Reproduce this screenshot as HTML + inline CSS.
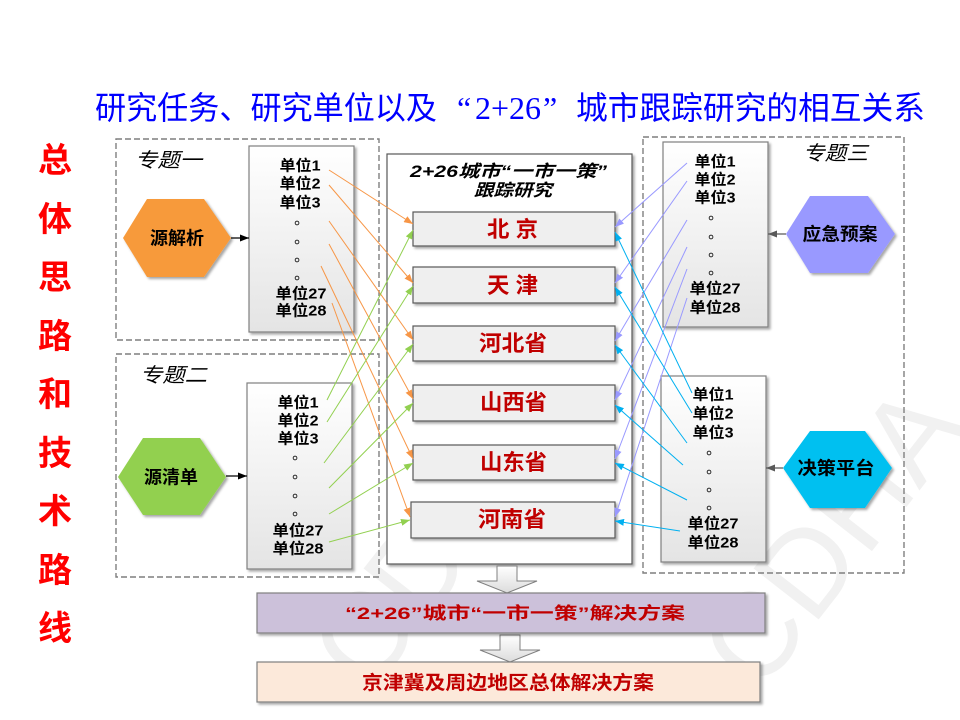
<!DOCTYPE html>
<html><head><meta charset="utf-8">
<style>
html,body{margin:0;padding:0;background:#fff;}
svg{display:block;}
text{font-family:"Liberation Sans","Noto Sans CJK SC",sans-serif;}
.u{font-size:15px;font-weight:700;fill:#000;text-anchor:middle;}
.d{font-family:"Noto Sans CJK TC",sans-serif;font-size:15px;fill:#000;text-anchor:middle;}
.c{font-size:22px;font-weight:700;fill:#c00000;}
.h{font-size:18px;font-weight:700;fill:#000;text-anchor:middle;}
.z{font-size:20px;font-style:italic;fill:#000;}
.v{font-size:34px;font-weight:700;fill:#ff0000;text-anchor:middle;}
</style></head>
<body>
<svg width="960" height="720" viewBox="0 0 960 720" xmlns="http://www.w3.org/2000/svg">
<defs>
  <filter id="sh" x="-10%" y="-10%" width="130%" height="130%">
    <feDropShadow dx="2" dy="2" stdDeviation="1.2" flood-color="#000" flood-opacity="0.35"/>
  </filter>
  <linearGradient id="ug" x1="0" y1="0" x2="0" y2="1">
    <stop offset="0" stop-color="#ffffff"/>
    <stop offset="1" stop-color="#e4e4e4"/>
  </linearGradient>
  <linearGradient id="ag" x1="0" y1="0" x2="0" y2="1">
    <stop offset="0" stop-color="#ffffff"/>
    <stop offset="1" stop-color="#dcdcdc"/>
  </linearGradient>
  <marker id="mO" markerWidth="9" markerHeight="7" refX="9" refY="3.5" orient="auto" markerUnits="userSpaceOnUse"><path d="M0,0 L9,3.5 L0,7 z" fill="#f79646"/></marker>
  <marker id="mG" markerWidth="9" markerHeight="7" refX="9" refY="3.5" orient="auto" markerUnits="userSpaceOnUse"><path d="M0,0 L9,3.5 L0,7 z" fill="#92d050"/></marker>
  <marker id="mL" markerWidth="9" markerHeight="7" refX="9" refY="3.5" orient="auto" markerUnits="userSpaceOnUse"><path d="M0,0 L9,3.5 L0,7 z" fill="#9999ff"/></marker>
  <marker id="mC" markerWidth="9" markerHeight="7" refX="9" refY="3.5" orient="auto" markerUnits="userSpaceOnUse"><path d="M0,0 L9,3.5 L0,7 z" fill="#00b0f0"/></marker>
  <marker id="mK" markerWidth="9" markerHeight="7" refX="9" refY="3.5" orient="auto" markerUnits="userSpaceOnUse"><path d="M0,0 L9,3.5 L0,7 z" fill="#000"/></marker>
  <marker id="mY" markerWidth="9" markerHeight="7" refX="9" refY="3.5" orient="auto" markerUnits="userSpaceOnUse"><path d="M0,0 L9,3.5 L0,7 z" fill="#595959"/></marker>
</defs>

<!-- watermark -->
<g fill="#f1f1f1" font-size="120" font-family="Liberation Sans, sans-serif">
  <text transform="translate(440,535) rotate(-52)" x="0" y="43" text-anchor="middle">CDHA</text>
  <text transform="translate(830,535) rotate(-52)" x="0" y="43" text-anchor="middle">CDHA</text>
</g>

<!-- title -->
<g font-size="32" fill="#0000ff">
  <text x="95" y="119" textLength="342" lengthAdjust="spacingAndGlyphs">研究任务、研究单位以及</text>
  <text x="457" y="119" style="font-family:'Liberation Serif',serif">“</text>
  <text x="475" y="119" textLength="66" lengthAdjust="spacingAndGlyphs" style="font-family:'Liberation Serif',serif">2+26</text>
  <text x="543" y="119" style="font-family:'Liberation Serif',serif">”</text>
  <text x="576" y="119" textLength="349" lengthAdjust="spacingAndGlyphs">城市跟踪研究的相互关系</text>
</g>

<!-- left vertical red -->
<g>
  <text class="v" x="55" y="172">总</text>
  <text class="v" x="55" y="231">体</text>
  <text class="v" x="55" y="289">思</text>
  <text class="v" x="55" y="348">路</text>
  <text class="v" x="55" y="406">和</text>
  <text class="v" x="55" y="465">技</text>
  <text class="v" x="55" y="523">术</text>
  <text class="v" x="55" y="582">路</text>
  <text class="v" x="55" y="640">线</text>
</g>

<!-- dashed boxes -->
<g fill="none" stroke="#7f7f7f" stroke-width="1.4" stroke-dasharray="6,3">
  <rect x="116" y="139" width="263" height="201"/>
  <rect x="116" y="354" width="263" height="223"/>
  <rect x="643" y="137" width="261" height="436"/>
</g>
<text class="z" x="135" y="167" textLength="67" lengthAdjust="spacingAndGlyphs">专题一</text>
<text class="z" x="140" y="382" textLength="67" lengthAdjust="spacingAndGlyphs">专题二</text>
<text class="z" x="803" y="160" textLength="65" lengthAdjust="spacingAndGlyphs">专题三</text>

<!-- unit boxes -->
<g fill="url(#ug)" stroke="#7f7f7f" stroke-width="1.2" filter="url(#sh)">
  <rect x="249" y="146" width="105" height="186"/>
  <rect x="247" y="383" width="105" height="186"/>
  <rect x="663" y="142" width="105" height="185"/>
  <rect x="661" y="376" width="105" height="186"/>
</g>

<!-- unit box texts 1 -->
<g>
  <text class="u" x="300" y="170.5" textLength="41" lengthAdjust="spacingAndGlyphs">单位1</text>
  <text class="u" x="300" y="188.5" textLength="41" lengthAdjust="spacingAndGlyphs">单位2</text>
  <text class="u" x="300" y="207.5" textLength="41" lengthAdjust="spacingAndGlyphs">单位3</text>
  <text class="d" x="297" y="228.7">。</text>
  <text class="d" x="297" y="247.7">。</text>
  <text class="d" x="297" y="265.7">。</text>
  <text class="d" x="297" y="283.7">。</text>
  <text class="u" x="301" y="298.5" textLength="51" lengthAdjust="spacingAndGlyphs">单位27</text>
  <text class="u" x="301" y="315.5" textLength="51" lengthAdjust="spacingAndGlyphs">单位28</text>
</g>
<!-- unit box texts 2 -->
<g>
  <text class="u" x="298" y="407.5" textLength="41" lengthAdjust="spacingAndGlyphs">单位1</text>
  <text class="u" x="298" y="425.5" textLength="41" lengthAdjust="spacingAndGlyphs">单位2</text>
  <text class="u" x="298" y="443.5" textLength="41" lengthAdjust="spacingAndGlyphs">单位3</text>
  <text class="d" x="295" y="463.7">。</text>
  <text class="d" x="295" y="482.7">。</text>
  <text class="d" x="295" y="501.7">。</text>
  <text class="d" x="295" y="519.7">。</text>
  <text class="u" x="298" y="535.5" textLength="51" lengthAdjust="spacingAndGlyphs">单位27</text>
  <text class="u" x="298" y="553.5" textLength="51" lengthAdjust="spacingAndGlyphs">单位28</text>
</g>
<!-- unit box texts 3 -->
<g>
  <text class="u" x="715" y="166.5" textLength="41" lengthAdjust="spacingAndGlyphs">单位1</text>
  <text class="u" x="715" y="184.5" textLength="41" lengthAdjust="spacingAndGlyphs">单位2</text>
  <text class="u" x="715" y="202.5" textLength="41" lengthAdjust="spacingAndGlyphs">单位3</text>
  <text class="d" x="711" y="223.7">。</text>
  <text class="d" x="711" y="242.7">。</text>
  <text class="d" x="711" y="260.7">。</text>
  <text class="d" x="711" y="278.7">。</text>
  <text class="u" x="715" y="293.5" textLength="51" lengthAdjust="spacingAndGlyphs">单位27</text>
  <text class="u" x="715" y="312.5" textLength="51" lengthAdjust="spacingAndGlyphs">单位28</text>
</g>
<!-- unit box texts 4 -->
<g>
  <text class="u" x="713" y="399.5" textLength="41" lengthAdjust="spacingAndGlyphs">单位1</text>
  <text class="u" x="713" y="418.5" textLength="41" lengthAdjust="spacingAndGlyphs">单位2</text>
  <text class="u" x="713" y="437.5" textLength="41" lengthAdjust="spacingAndGlyphs">单位3</text>
  <text class="d" x="709" y="458.7">。</text>
  <text class="d" x="709" y="477.7">。</text>
  <text class="d" x="709" y="495.7">。</text>
  <text class="d" x="709" y="513.7">。</text>
  <text class="u" x="713" y="528.5" textLength="51" lengthAdjust="spacingAndGlyphs">单位27</text>
  <text class="u" x="713" y="547.5" textLength="51" lengthAdjust="spacingAndGlyphs">单位28</text>
</g>

<!-- hexagons -->
<g filter="url(#sh)">
  <polygon points="123,238 147,199 204,199 231,238 204,277 147,277" fill="#f79a3a"/>
  <polygon points="118,477 143,438 200,438 226,477 200,515 143,515" fill="#92d050"/>
  <polygon points="786,234 810,196 868,196 895,234 868,273 810,273" fill="#9999ff"/>
  <polygon points="783,468 810,431 865,431 892,468 865,508 810,508" fill="#00c0f0"/>
</g>
<text class="h" x="177" y="244.5">源解析</text>
<text class="h" x="171" y="483.5">源清单</text>
<text class="h" x="840" y="240.5" textLength="75" lengthAdjust="spacingAndGlyphs">应急预案</text>
<text class="h" x="836" y="474.5" textLength="77" lengthAdjust="spacingAndGlyphs">决策平台</text>

<!-- hex arrows -->
<line x1="231" y1="238" x2="249" y2="238" stroke="#000" stroke-width="1.3" marker-end="url(#mK)"/>
<line x1="226" y1="476" x2="247" y2="476" stroke="#000" stroke-width="1.3" marker-end="url(#mK)"/>
<line x1="786" y1="234" x2="768" y2="234" stroke="#595959" stroke-width="1.3" marker-end="url(#mY)"/>
<line x1="783" y1="468" x2="766" y2="468" stroke="#595959" stroke-width="1.3" marker-end="url(#mY)"/>

<!-- center box -->
<rect x="387" y="154" width="245" height="410" fill="#fff" stroke="#595959" stroke-width="1.2" filter="url(#sh)"/>
<text x="410" y="177" font-size="17" font-weight="700" font-style="italic" textLength="197" lengthAdjust="spacingAndGlyphs">2+26城市“一市一策”</text>
<text x="474" y="196" font-size="17" font-weight="700" font-style="italic" textLength="78" lengthAdjust="spacingAndGlyphs">跟踪研究</text>

<!-- city boxes -->
<g fill="#efefef" stroke="#595959" stroke-width="1.2" filter="url(#sh)">
  <rect x="413" y="212" width="202" height="34"/>
  <rect x="413" y="267" width="202" height="36"/>
  <rect x="413" y="326" width="202" height="35"/>
  <rect x="413" y="385" width="202" height="36"/>
  <rect x="413" y="445" width="202" height="35"/>
  <rect x="411" y="502" width="204" height="36"/>
</g>
<text class="c" x="487" y="237" textLength="51" lengthAdjust="spacingAndGlyphs">北 京</text>
<text class="c" x="487" y="293" textLength="51" lengthAdjust="spacingAndGlyphs">天 津</text>
<text class="c" x="479" y="351" textLength="68" lengthAdjust="spacingAndGlyphs">河北省</text>
<text class="c" x="480" y="410" textLength="67" lengthAdjust="spacingAndGlyphs">山西省</text>
<text class="c" x="480" y="470" textLength="67" lengthAdjust="spacingAndGlyphs">山东省</text>
<text class="c" x="478" y="527" textLength="68" lengthAdjust="spacingAndGlyphs">河南省</text>

<!-- connectors orange -->
<g stroke="#f79646" stroke-width="1" fill="none" marker-end="url(#mO)">
  <line x1="329" y1="170" x2="413" y2="224"/>
  <line x1="329" y1="185" x2="413" y2="283"/>
  <line x1="329" y1="221" x2="413" y2="340"/>
  <line x1="329" y1="244" x2="413" y2="399"/>
  <line x1="321" y1="266" x2="413" y2="459"/>
  <line x1="332" y1="303" x2="410" y2="517"/>
</g>
<!-- connectors green -->
<g stroke="#92d050" stroke-width="1" fill="none" marker-end="url(#mG)">
  <line x1="327" y1="400" x2="413" y2="230"/>
  <line x1="327" y1="422" x2="413" y2="286"/>
  <line x1="324" y1="463" x2="413" y2="344"/>
  <line x1="329" y1="488" x2="413" y2="403"/>
  <line x1="329" y1="514" x2="413" y2="463"/>
  <line x1="329" y1="542" x2="410" y2="520"/>
</g>
<!-- connectors lavender -->
<g stroke="#9999ff" stroke-width="1" fill="none" marker-end="url(#mL)">
  <line x1="687" y1="163" x2="615" y2="227"/>
  <line x1="687" y1="181" x2="615" y2="283"/>
  <line x1="687" y1="220" x2="615" y2="341"/>
  <line x1="687" y1="247" x2="615" y2="400"/>
  <line x1="687" y1="269" x2="615" y2="459"/>
  <line x1="687" y1="298" x2="615" y2="517"/>
</g>
<!-- connectors cyan -->
<g stroke="#00b0f0" stroke-width="1" fill="none" marker-end="url(#mC)">
  <line x1="692" y1="393" x2="615" y2="232"/>
  <line x1="692" y1="413" x2="615" y2="287"/>
  <line x1="687" y1="443" x2="615" y2="345"/>
  <line x1="683" y1="465" x2="615" y2="405"/>
  <line x1="687" y1="500" x2="615" y2="463"/>
  <line x1="680" y1="531" x2="615" y2="521"/>
</g>

<!-- block arrows -->
<polygon points="497,566 517,566 517,581 537,581 507,593 477,581 497,581" fill="url(#ag)" stroke="#808080" stroke-width="1"/>
<polygon points="500,635 520,635 520,650 540,650 510,662 480,650 500,650" fill="url(#ag)" stroke="#808080" stroke-width="1"/>

<!-- bottom bars -->
<rect x="257" y="593" width="508" height="40" fill="#ccc1da" stroke="#7f7f7f" stroke-width="1.2" filter="url(#sh)"/>
<text x="345" y="619" font-size="17" font-weight="700" fill="#c00000" textLength="340" lengthAdjust="spacingAndGlyphs">“2+26”城市“一市一策”解决方案</text>
<rect x="257" y="662" width="503" height="40" fill="#fce9da" stroke="#7f7f7f" stroke-width="1.2" filter="url(#sh)"/>
<text x="362" y="689" font-size="19" font-weight="700" fill="#c00000" textLength="292" lengthAdjust="spacingAndGlyphs">京津冀及周边地区总体解决方案</text>
</svg>
</body></html>
